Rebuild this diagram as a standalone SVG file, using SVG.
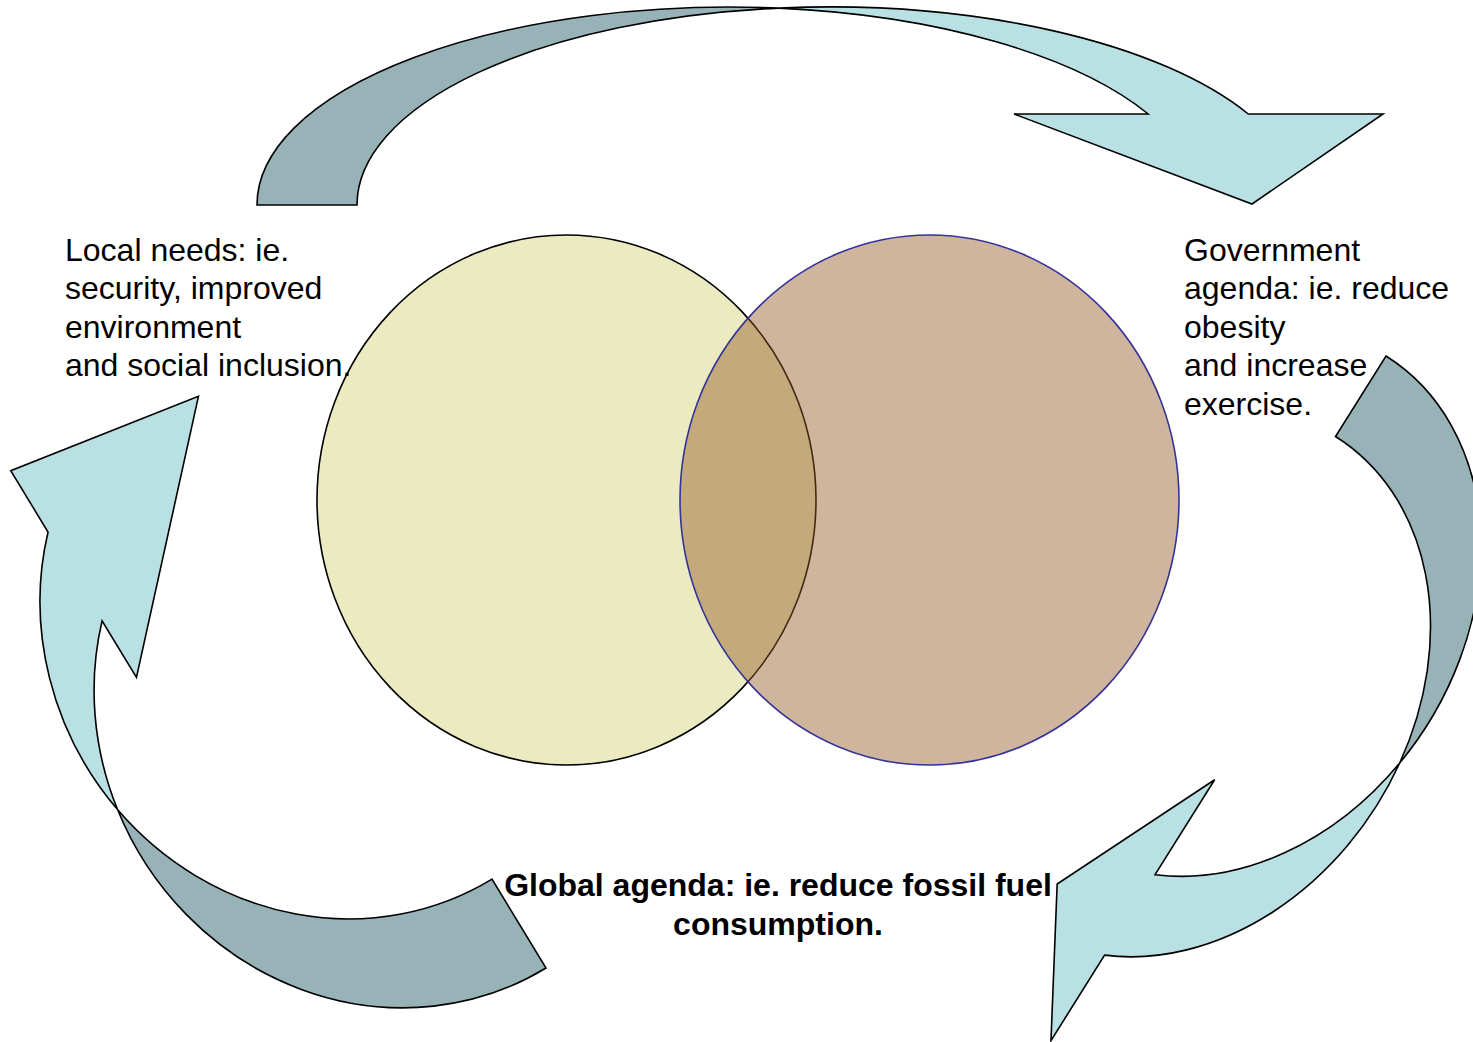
<svg xmlns="http://www.w3.org/2000/svg" width="1473" height="1042" viewBox="0 0 1473 1042">
  <style>
    .back { fill: #97b3b7; stroke: #000; stroke-width: 1.6; stroke-linejoin: miter; }
    .front { fill: #b9e0e3; stroke: #000; stroke-width: 1.6; stroke-linejoin: miter; }
    .label { font-family: "Liberation Sans", Arial, Helvetica, sans-serif; font-size: 32px; fill: #000; }
    .bold { font-weight: bold; }
  </style>
  <rect width="1473" height="1042" fill="#fff"/>

  <!-- Curved cycle arrows: each is a back band (dark) and a front band with head (light),
       built in a local frame where the base sits on y=0 and the arch rises to negative y -->
  <g id="connectors">
    <g id="arrow-top" transform="translate(257,205)">
      <path class="back" d="M0,0 A472,198 0 0 1 522,-196.9 A472,198 0 0 0 100,0 Z"/>
      <path class="front" d="M522,-196.9 A472,198 0 0 1 991.2,-91 L1126,-91 L995,-1 L757,-91 L891.2,-91 A472,198 0 0 0 522,-196.9 Z"/>
    </g>
    <g id="arrow-right" transform="translate(1386,356) rotate(122.1)">
      <path class="back" d="M0,0 A290,231 0 0 1 337.5,-227.9 A290,231 0 0 0 95,0 Z"/>
      <path class="front" d="M337.5,-227.9 A290,231 0 0 1 657.1,-80 L758,-80 L622,-2 L450,-80 L562.1,-80 A290,231 0 0 0 337.5,-227.9 Z"/>
    </g>
    <g id="arrow-bottom-left" transform="translate(546,968) rotate(-121.3)">
      <path class="back" d="M0,0 A306,288 0 0 1 358,-283.8 A306,288 0 0 0 104,0 Z"/>
      <path class="front" d="M358,-283.8 A306,288 0 0 1 631.2,-199 L703,-199 L669,0 L461,-199 L527.2,-199 A306,288 0 0 0 358,-283.8 Z"/>
    </g>
  </g>

  <!-- Overlapping circles -->
  <g id="circle-left">
    <ellipse cx="566.5" cy="500" rx="249.5" ry="265" fill="#ebeac0" stroke="#000" stroke-width="1.6"/>
  </g>
  <g id="circle-right">
    <ellipse cx="929.5" cy="500" rx="249.5" ry="265" fill="#945b27" fill-opacity="0.45" stroke="#333399" stroke-width="1.6"/>
  </g>

  <!-- Labels -->
  <g id="label-local">
    <text class="label" x="65" y="261"><tspan x="65">Local needs: ie.</tspan><tspan x="65" dy="38.4">security, improved</tspan><tspan x="65" dy="38.4">environment</tspan><tspan x="65" dy="38.4">and social inclusion.</tspan></text>
  </g>
  <g id="label-government">
    <text class="label" x="1184" y="261"><tspan x="1184">Government</tspan><tspan x="1184" dy="38.4">agenda: ie. reduce</tspan><tspan x="1184" dy="38.4">obesity</tspan><tspan x="1184" dy="38.4">and increase</tspan><tspan x="1184" dy="38.4">exercise.</tspan></text>
  </g>
  <g id="label-global">
    <text class="label bold" x="778" y="896" text-anchor="middle"><tspan x="778">Global agenda: ie. reduce fossil fuel</tspan><tspan x="778" dy="38.6">consumption.</tspan></text>
  </g>
</svg>
